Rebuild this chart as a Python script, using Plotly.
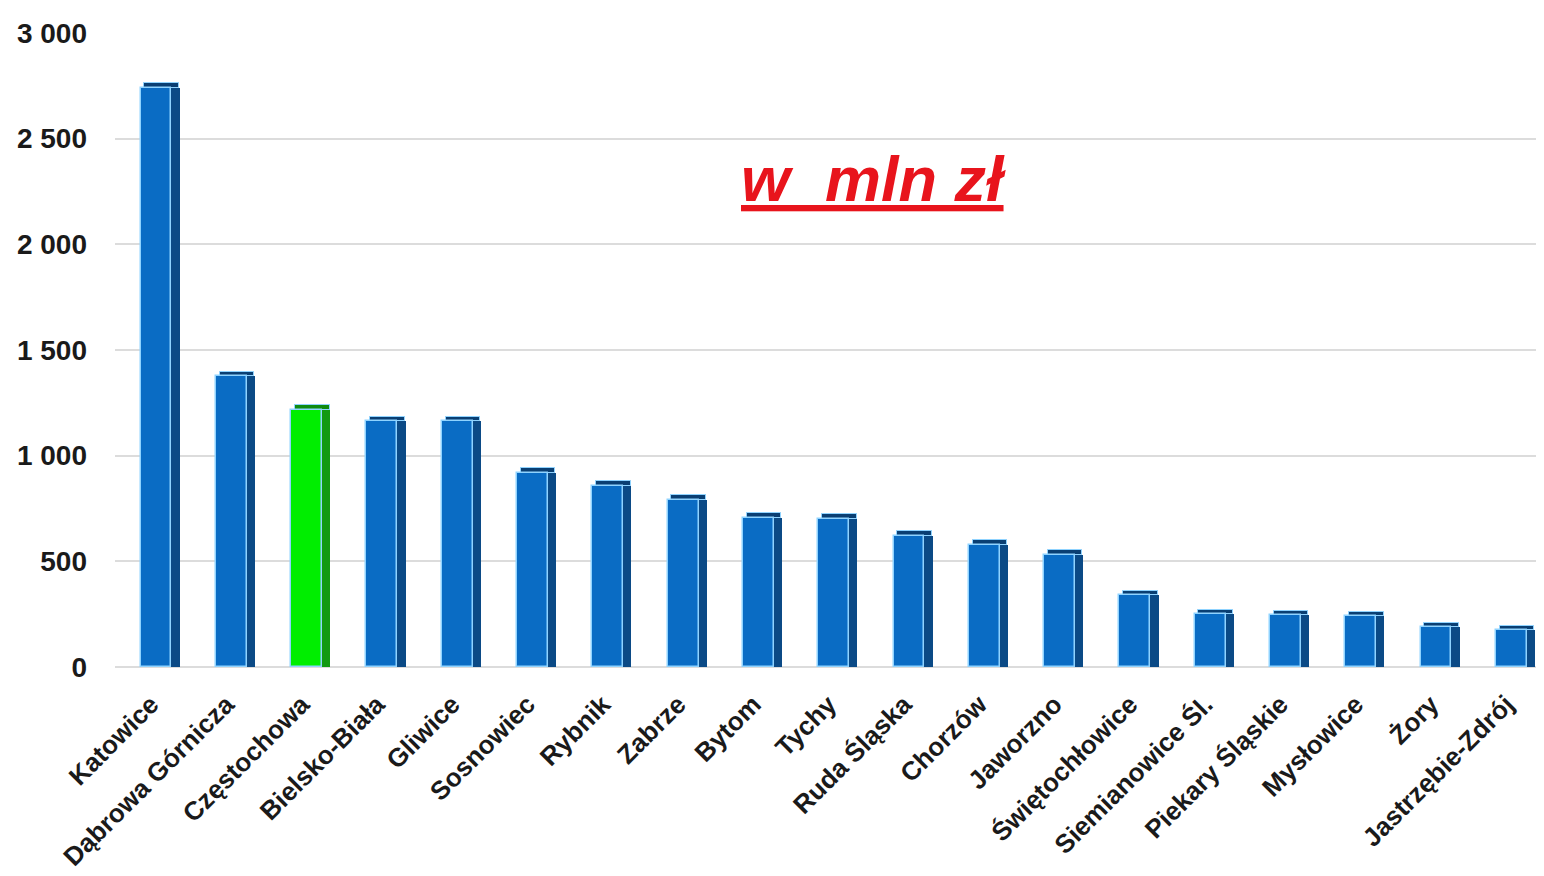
import plotly.graph_objects as go

# Spending by city, in mln zł
cities = [
    "Katowice", "Dąbrowa Górnicza", "Częstochowa", "Bielsko-Biała", "Gliwice",
    "Sosnowiec", "Rybnik", "Zabrze", "Bytom", "Tychy", "Ruda Śląska", "Chorzów",
    "Jaworzno", "Świętochłowice", "Siemianowice Śl.", "Piekary Śląskie",
    "Mysłowice", "Żory", "Jastrzębie-Zdrój",
]
values = [2740, 1375, 1217, 1163, 1163, 918, 857, 791, 706, 700,
          622, 579, 532, 339, 250, 245, 240, 188, 174]
highlight = "Częstochowa"

y_ticks = [0, 500, 1000, 1500, 2000, 2500, 3000]
y_tick_labels = ["0", "500", "1 000", "1 500", "2 000", "2 500", "3 000"]

front = ["#00ee00" if c == highlight else "#0a6cc4" for c in cities]
side = ["#129a12" if c == highlight else "#0b4a86" for c in cities]
top = ["#0f8a0f" if c == highlight else "#0a3f73" for c in cities]

fig = go.Figure()

# darker side face to fake the 3D look
fig.add_trace(go.Bar(
    x=cities, y=values, marker_color=side, width=0.11, offset=0.19,
    marker_line_width=0, hoverinfo="skip", showlegend=False,
))

# thin top face
fig.add_trace(go.Bar(
    x=cities, y=[22] * len(values), base=values, marker_color=top,
    width=0.46, offset=-0.17, marker_line=dict(color="#8fd3ff", width=1),
    hoverinfo="skip", showlegend=False,
))

# front face
fig.add_trace(go.Bar(
    x=cities, y=values, marker_color=front, width=0.41, offset=-0.22,
    marker_line=dict(color="#8fd3ff", width=1.5), showlegend=False,
))

# page body has an 8px margin, so the figure is 8px smaller each way
fig.add_annotation(
    text="<u><b><i>w\u00a0\u00a0mln zł</i></b></u>",
    x=(865 - 107) / 1429, y=2310, xref="paper", yref="y",
    showarrow=False,
    font=dict(family="Liberation Sans, Arial", size=63, color="#e8141c"),
)

fig.update_layout(
    barmode="overlay",
    width=1536, height=868,
    margin=dict(l=107, r=0, t=25, b=209),
    plot_bgcolor="white", paper_bgcolor="white",
    font=dict(family="Liberation Sans, Arial", color="#1a1a1a"),
    bargap=0,
)
fig.update_xaxes(
    range=[-0.56, 18.42], tickangle=-45, showgrid=False, showline=False,
    ticks="", tickfont=dict(size=26, family="Liberation Sans, Arial"),
    ticktext=[f"<b>{c}</b>" for c in cities], tickvals=cities,
    ticklabelstandoff=16, ticklabelshift=-6, automargin=False,
)
fig.update_yaxes(
    range=[0, 3000], tickvals=y_ticks, ticktext=[f"<b>{t}</b>" for t in y_tick_labels],
    showgrid=True, gridcolor="#dcdcdc", gridwidth=1.5, zeroline=True,
    zerolinecolor="#dcdcdc", zerolinewidth=1.5, showline=False,
    tickfont=dict(size=28), ticklabelstandoff=27, automargin=False,
)

fig.write_html("out.html")
